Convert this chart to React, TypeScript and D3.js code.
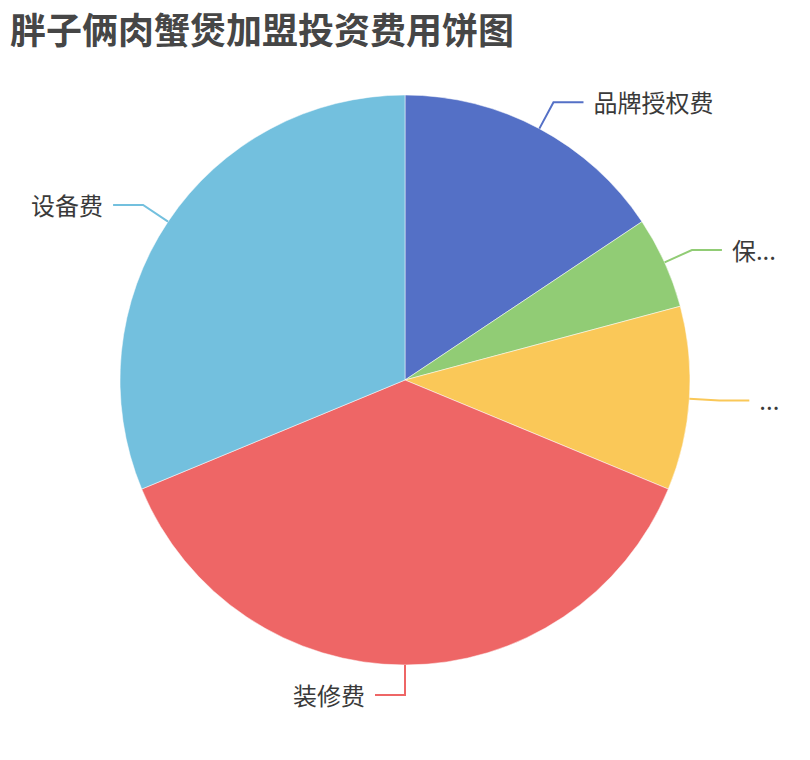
import * as d3 from "d3";
import { useMemo } from "react";

const width = 810;
const height = 760;
const cx = 405;
const cy = 380;
const radius = 285;
const length1 = 30;
const length2 = 30;

const title = "胖子俩肉蟹煲加盟投资费用饼图";
const labels = ["品牌授权费", "保...", "...", "装修费", "设备费"];
const values = [3, 1, 2, 7.2, 6];
const colors = ["#5470c6", "#91cc75", "#fac858", "#ee6666", "#73c0de"];

const font = "'Noto Sans CJK SC', 'Noto Sans', sans-serif";

interface Slice {
  label: string;
  value: number;
  color: string;
}

const App = () => {
  const slices: Slice[] = labels.map((label, i) => ({
    label,
    value: values[i],
    color: colors[i],
  }));

  const arcs = useMemo(
    () =>
      d3
        .pie<Slice>()
        .sort(null)
        .value((d) => d.value)(slices),
    []
  );

  const arcBuilder = d3
    .arc<d3.PieArcDatum<Slice>>()
    .innerRadius(0)
    .outerRadius(radius);

  return (
    <div style={{ position: "absolute", left: 0, top: 0 }}>
      <svg width={width} height={height} viewBox={`0 0 ${width} ${height}`}>
        <rect width={width} height={height} fill="#fff" />
        <text
          x={10}
          y={28}
          fontFamily={font}
          fontSize={36}
          fontWeight="bold"
          fill="#464646"
          dominantBaseline="central"
        >
          {title}
        </text>

        <g transform={`translate(${cx}, ${cy})`}>
          {arcs.map((a, i) => (
            <path
              key={i}
              d={arcBuilder(a) as string}
              fill={a.data.color}
              stroke="#fff"
              strokeWidth={0.5}
            />
          ))}

          {arcs.map((a, i) => {
            const mid = (a.startAngle + a.endAngle) / 2;
            const sx = Math.sin(mid);
            const sy = -Math.cos(mid);
            const right = sx > 1e-6;
            const p1 = [sx * radius, sy * radius];
            const p2 = [sx * (radius + length1), sy * (radius + length1)];
            const p3 = [p2[0] + (right ? length2 : -length2), p2[1]];
            const tx = p3[0] + (right ? 10 : -10);
            return (
              <g key={i}>
                <polyline
                  points={[p1, p2, p3].map((p) => p.join(",")).join(" ")}
                  fill="none"
                  stroke={a.data.color}
                  strokeWidth={2}
                />
                <text
                  x={tx}
                  y={p3[1] - 1}
                  fontFamily={font}
                  fontSize={24}
                  fill="#3a3a3a"
                  textAnchor={right ? "start" : "end"}
                  dominantBaseline="central"
                >
                  {a.data.label}
                </text>
              </g>
            );
          })}
        </g>
      </svg>
    </div>
  );
};

export default App;
